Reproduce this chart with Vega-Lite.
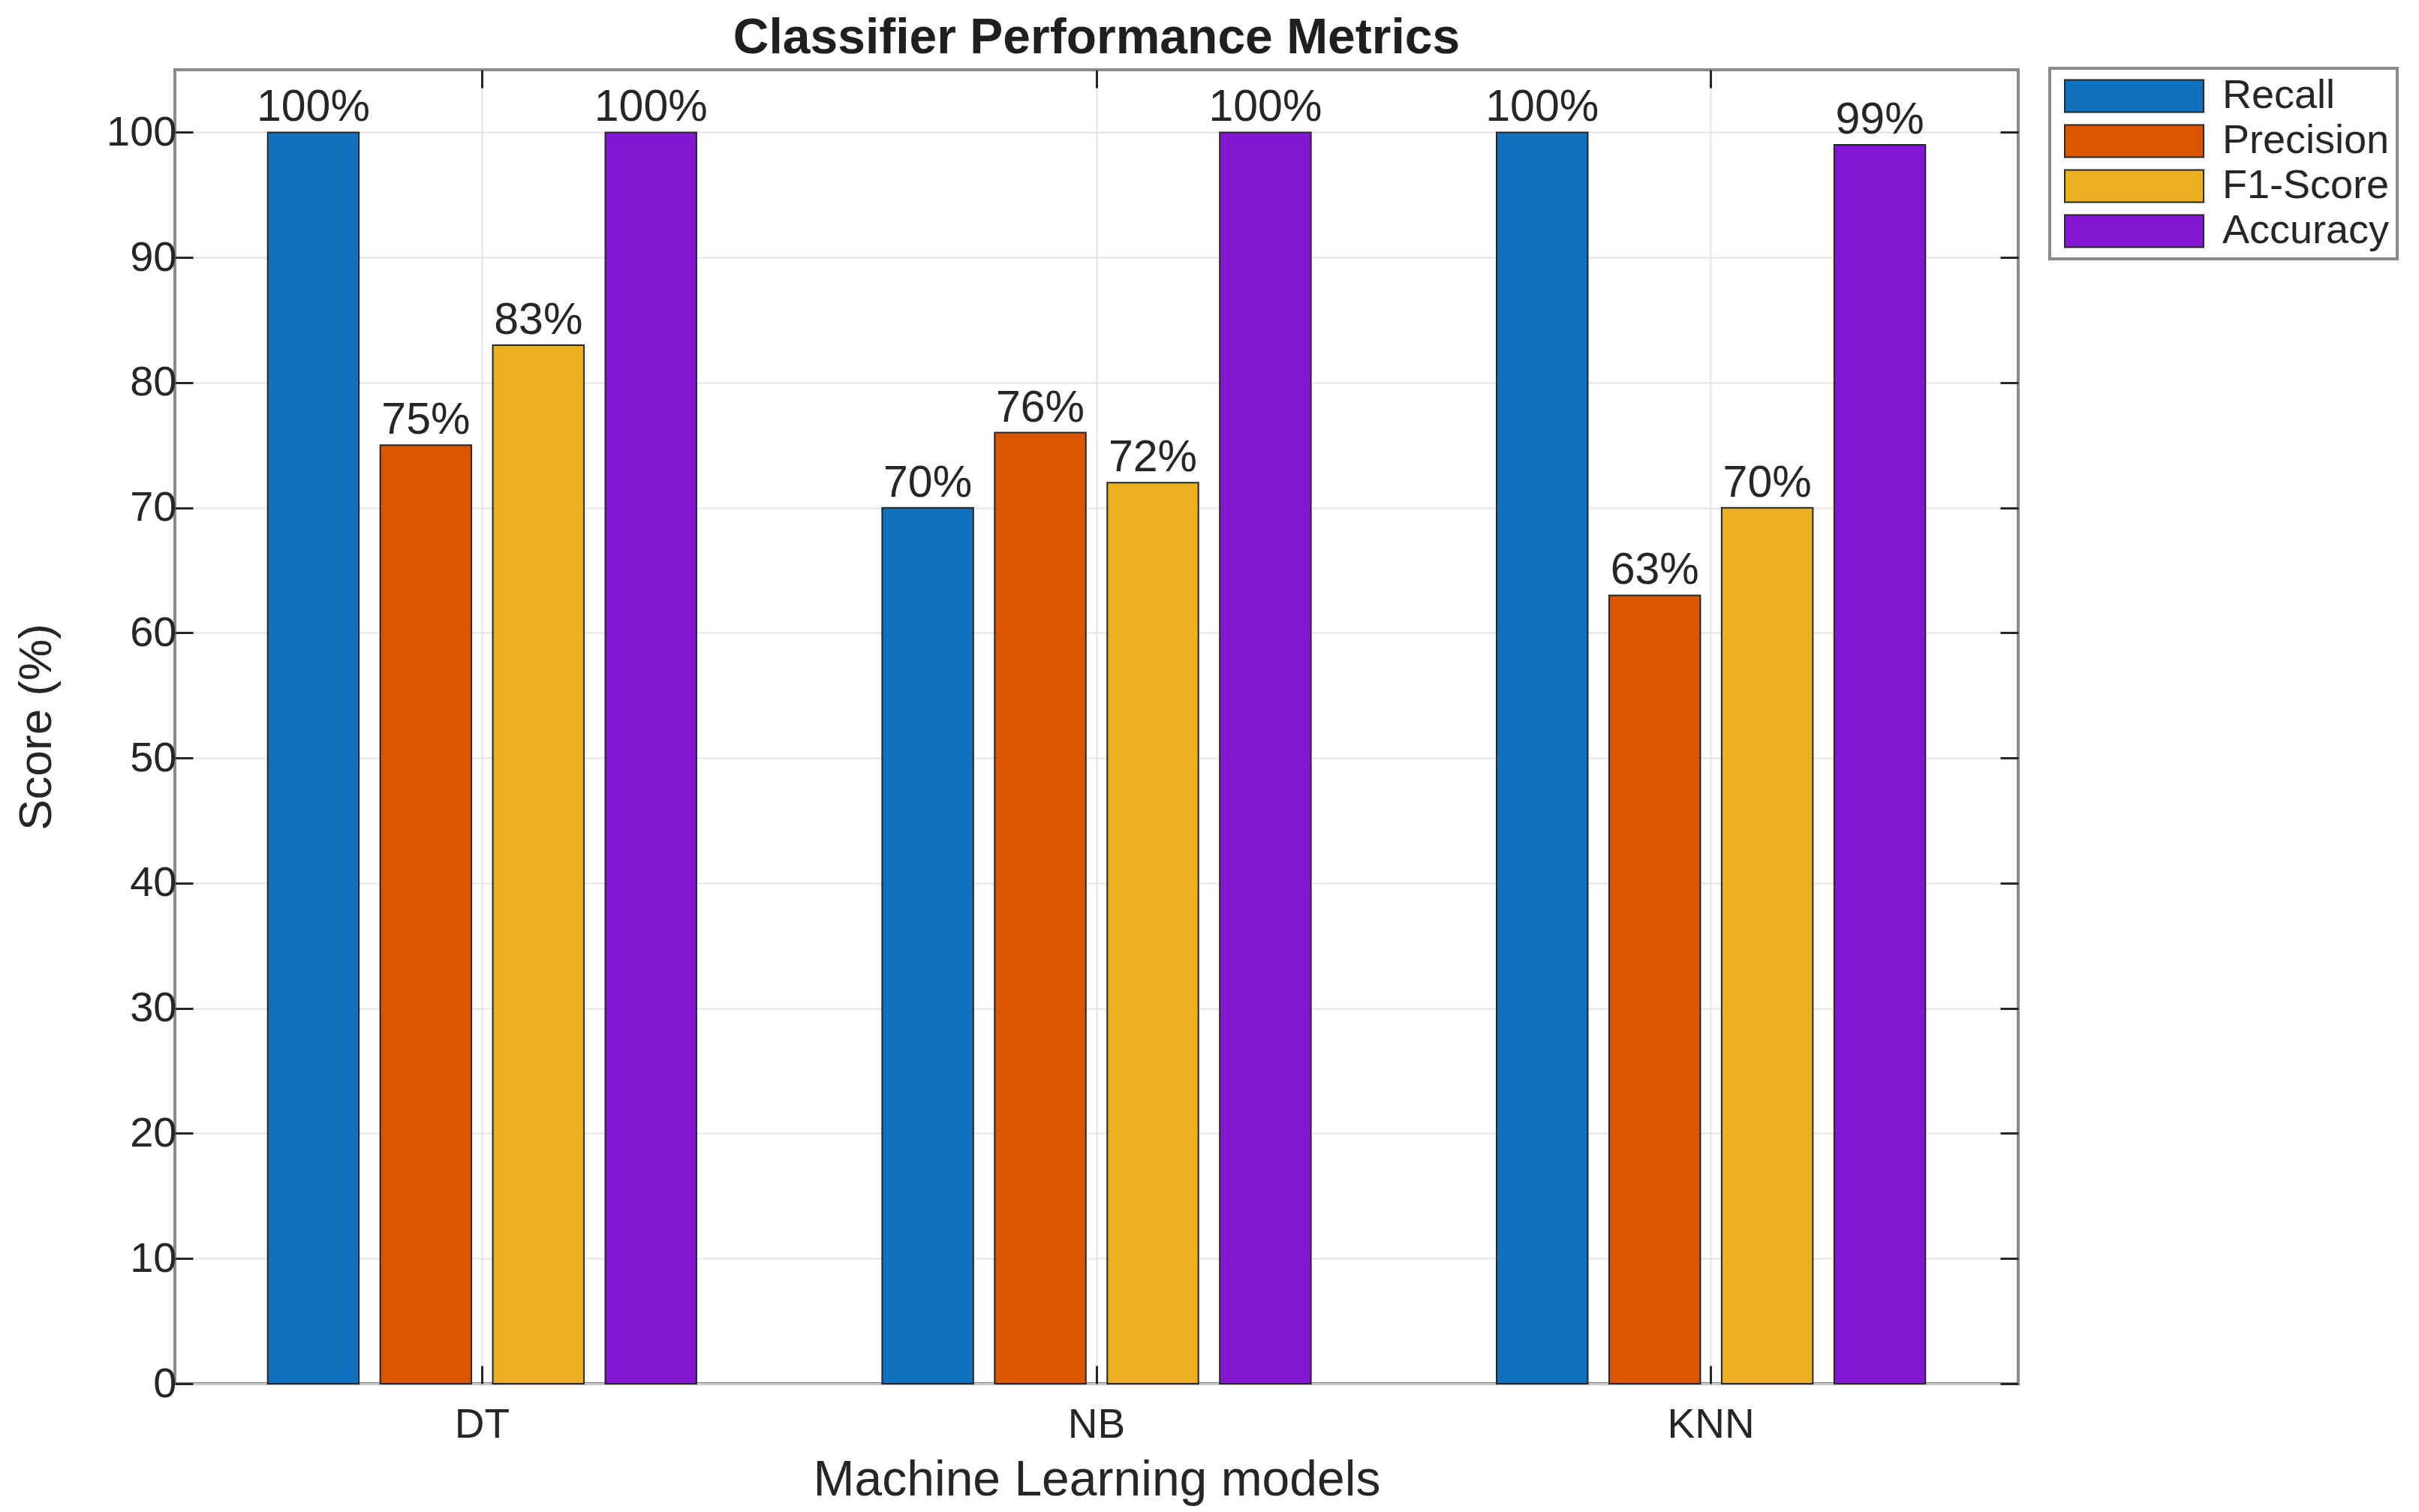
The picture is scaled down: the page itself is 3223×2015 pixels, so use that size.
{
  "$schema": "https://vega.github.io/schema/vega-lite/v6.json",
  "width": 2456,
  "height": 1751,
  "autosize": {"type": "none"},
  "padding": {"left": 233, "top": 93, "right": 534, "bottom": 171},
  "background": "white",
  "config": {
    "font": "Liberation Sans",
    "view": {"stroke": "#8a8a8a", "strokeWidth": 4}
  },
  "title": {
    "text": "Classifier Performance Metrics",
    "fontSize": 66,
    "fontWeight": "bold",
    "color": "#1f1f1f",
    "offset": 4,
    "anchor": "middle"
  },
  "data": {
    "values": [
      {"model": "DT", "metric": "Recall", "value": 100, "label": "100%"},
      {"model": "DT", "metric": "Precision", "value": 75, "label": "75%"},
      {"model": "DT", "metric": "F1-Score", "value": 83, "label": "83%"},
      {"model": "DT", "metric": "Accuracy", "value": 100, "label": "100%"},
      {"model": "NB", "metric": "Recall", "value": 70, "label": "70%"},
      {"model": "NB", "metric": "Precision", "value": 76, "label": "76%"},
      {"model": "NB", "metric": "F1-Score", "value": 72, "label": "72%"},
      {"model": "NB", "metric": "Accuracy", "value": 100, "label": "100%"},
      {"model": "KNN", "metric": "Recall", "value": 100, "label": "100%"},
      {"model": "KNN", "metric": "Precision", "value": 63, "label": "63%"},
      {"model": "KNN", "metric": "F1-Score", "value": 70, "label": "70%"},
      {"model": "KNN", "metric": "Accuracy", "value": 99, "label": "99%"}
    ]
  },
  "layer": [
    {
      "mark": {"type": "bar", "stroke": "#262626", "strokeWidth": 2},
      "encoding": {
        "x": {
          "field": "model", "type": "nominal", "sort": ["DT", "NB", "KNN"],
          "scale": {"paddingInner": 0, "paddingOuter": 0},
          "axis": {
            "orient": "bottom", "title": "Machine Learning models", "titleFontSize": 66, "titleFontWeight": "normal",
            "titleColor": "#262626", "titlePadding": 14, "labelAngle": 0, "labelFontSize": 55, "labelColor": "#262626",
            "labelPadding": 52, "domain": false, "tickSize": -24, "tickColor": "#262626", "tickWidth": 3,
            "grid": true, "gridColor": "#e3e3e3", "gridWidth": 2, "bandPosition": 0.5
          }
        },
        "xOffset": {
          "field": "metric", "type": "nominal", "sort": ["Recall", "Precision", "F1-Score", "Accuracy"],
          "scale": {"paddingInner": 0.19, "paddingOuter": 0.825}
        },
        "y": {
          "field": "value", "type": "quantitative",
          "scale": {"domain": [0, 105], "nice": false},
          "axis": {
            "orient": "left", "title": "Score (%)", "titleFontSize": 62, "titleFontWeight": "normal", "titleColor": "#262626",
            "titlePadding": 61, "values": [0, 10, 20, 30, 40, 50, 60, 70, 80, 90, 100], "labelFontSize": 56,
            "labelColor": "#262626", "labelPadding": 22, "domain": false, "tickSize": -24, "tickColor": "#262626",
            "tickWidth": 3, "grid": true, "gridColor": "#e3e3e3", "gridWidth": 2
          }
        },
        "color": {
          "field": "metric", "type": "nominal",
          "scale": {"domain": ["Recall", "Precision", "F1-Score", "Accuracy"], "range": ["#1171be", "#db5400", "#ebb021", "#8417d3"]},
          "legend": {
            "orient": "none", "legendX": 2498, "legendY": -2, "title": null,
            "symbolType": "M-1,-0.896H6.708V0.896H-1Z", "symbolSize": 2304, "symbolOffset": 7,
            "symbolStrokeColor": "#262626", "symbolStrokeWidth": 2, "symbolOpacity": 1,
            "labelFontSize": 54, "labelColor": "#262626", "labelOffset": 159, "labelLimit": 0,
            "strokeColor": "#8a8a8a", "fillColor": "white", "padding": 10, "rowPadding": 6,
            "encode": {"legend": {"update": {"strokeWidth": {"value": 4}}}}
          }
        }
      }
    },
    {
      "mark": {"type": "text", "baseline": "alphabetic", "dy": -15, "fontSize": 59, "color": "#262626"},
      "encoding": {
        "x": {
          "field": "model", "type": "nominal", "sort": ["DT", "NB", "KNN"],
          "axis": {"orient": "top", "title": null, "labels": false, "domain": false, "tickSize": -24, "tickColor": "#262626", "tickWidth": 3, "grid": false, "bandPosition": 0.5}
        },
        "xOffset": {"field": "metric", "type": "nominal", "sort": ["Recall", "Precision", "F1-Score", "Accuracy"]},
        "y": {
          "field": "value", "type": "quantitative",
          "axis": {"orient": "right", "title": null, "labels": false, "values": [0, 10, 20, 30, 40, 50, 60, 70, 80, 90, 100], "domain": false, "tickSize": -24, "tickColor": "#262626", "tickWidth": 3, "grid": false}
        },
        "text": {"field": "label"}
      }
    }
  ],
  "resolve": {"axis": {"x": "independent", "y": "independent"}}
}
